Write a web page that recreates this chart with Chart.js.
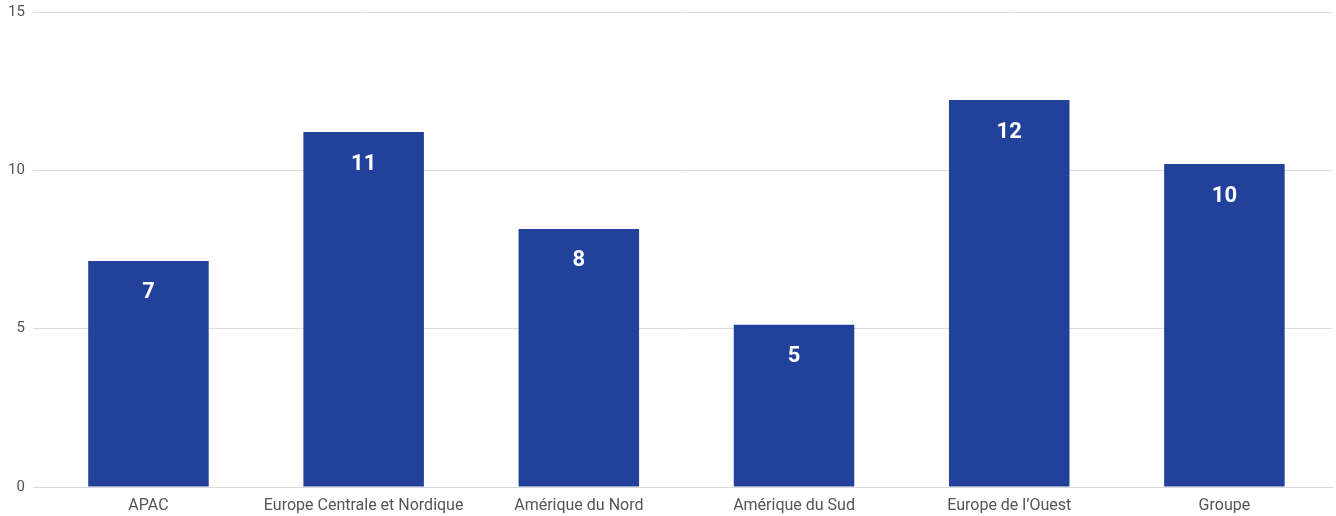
<!DOCTYPE html>
<html>
<head>
<meta charset="utf-8">
<script src="https://cdn.jsdelivr.net/npm/chart.js@4"></script>
<style>
  html, body { margin: 0; padding: 0; background: #fff; }
  #wrap { width: 1336px; height: 516px; }
</style>
</head>
<body>
<div id="wrap"><canvas id="regionChart"></canvas></div>
<script>
// ====================== DATA ======================
const regions = ["APAC", "Europe Centrale et Nordique", "Amérique du Nord", "Amérique du Sud", "Europe de l’Ouest", "Groupe"];
const scores = [7.14, 11.21, 8.15, 5.12, 12.22, 10.2];
const yTicks = [0, 5, 10, 15];

// draws the rounded value inside the top of each bar
const barLabels = {
    id: "barLabels",
    afterDatasetsDraw(chart) {
        const ctx = chart.ctx;
        const meta = chart.getDatasetMeta(0);
        ctx.save();
        ctx.fillStyle = "#ffffff";
        ctx.font = "bold 22px Roboto";
        ctx.textAlign = "center";
        ctx.textBaseline = "middle";
        meta.data.forEach((bar, i) => {
            ctx.fillText(Math.round(scores[i]), bar.x, bar.y + 32);
        });
        ctx.restore();
    }
};

// ====================== CHART ======================
const ctx = document.getElementById("regionChart").getContext("2d");
new Chart(ctx, {
    type: "bar",
    data: {
        labels: regions,
        datasets: [{
            data: scores,
            backgroundColor: "#22419a",
            categoryPercentage: 1,
            barPercentage: 0.56
        }]
    },
    options: {
        responsive: true,
        maintainAspectRatio: false,
        animation: false,
        layout: { padding: { top: 12, right: 4, left: 0, bottom: 0 } },
        plugins: {
            legend: { display: false },
            tooltip: { enabled: false }
        },
        scales: {
            x: {
                grid: { display: false, drawTicks: false },
                border: { color: "#d9d9d9" },
                ticks: { color: "#555", font: { family: "Roboto", size: 16 }, padding: 9 },
                afterFit(axis) { axis.height = 29; }
            },
            y: {
                min: 0,
                max: 15,
                afterBuildTicks(axis) { axis.ticks = yTicks.map(v => ({ value: v })); },
                afterFit(axis) { axis.paddingTop = 0; axis.paddingBottom = 0; },
                grid: { color: "#dcdcdc", tickLength: 8 },
                border: { display: false },
                ticks: { color: "#555", font: { family: "Roboto", size: 15 }, padding: 8 }
            }
        }
    },
    plugins: [barLabels]
});
</script>
</body>
</html>
